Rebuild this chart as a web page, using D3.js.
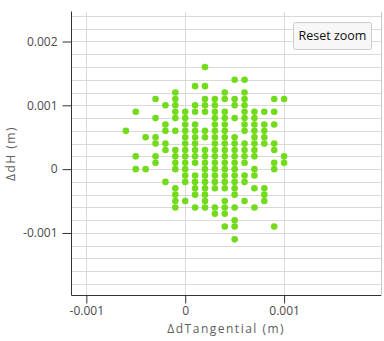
<!DOCTYPE html>
<html>
<head>
<meta charset="utf-8">
<script src="https://cdn.jsdelivr.net/npm/d3@7"></script>
<style>
  html, body { margin: 0; padding: 0; background: #fff; }
  svg { display: block; font-family: "Open Sans", "Noto Sans", sans-serif; }
</style>
</head>
<body>
<svg id="chart" width="384" height="341"></svg>
<script>
// ---- data (metres) ----
const columnX = [-0.0006, -0.0005, -0.0004, -0.0003, -0.0002, -0.0001, 0, 0.0001, 0.0002, 0.0003, 0.0004, 0.0005, 0.0006, 0.0007, 0.0008, 0.0009, 0.001];
const columnY = [
  [0.0006],
  [0.0009, 0.0002, 0],
  [0.0005, 0],
  [0.0011, 0.0008, 0.0005, 0.0004, 0.0002, 0.0001],
  [0.001, 0.0007, 0.0006, 0.0004, 0.0003, -0.0002],
  [0.0012, 0.0011, 0.001, 0.0009, 0.0008, 0.0006, 0.0003, 0.0002, 0.0001, 0, -0.0003, -0.0004, -0.0005, -0.0006],
  [0.0009, 0.0008, 0.0007, 0.0006, 0.0005, 0.0004, 0.0003, 0.0002, 0.0001, 0, -0.0001, -0.0002, -0.0005],
  [0.0013, 0.001, 0.0009, 0.0007, 0.0006, 0.0005, 0.0004, 0.0003, 0.0002, 0.0001, -0.0001, -0.0002, -0.0003, -0.0004, -0.0006],
  [0.0016, 0.0013, 0.0011, 0.001, 0.0009, 0.0006, 0.0005, 0.0003, 0.0002, 0.0001, 0, -0.0001, -0.0002, -0.0003, -0.0004, -0.0005, -0.0006],
  [0.0011, 0.001, 0.0009, 0.0008, 0.0007, 0.0006, 0.0005, 0.0004, 0.0003, 0.0002, 0.0001, 0, -0.0001, -0.0002, -0.0003, -0.0006, -0.0007],
  [0.0012, 0.0011, 0.0009, 0.0008, 0.0007, 0.0006, 0.0005, 0.0004, 0.0003, 0.0002, 0.0001, 0, -0.0001, -0.0002, -0.0003, -0.0005, -0.0006, -0.0007, -0.0009],
  [0.0014, 0.0011, 0.001, 0.0008, 0.0005, 0.0004, 0.0003, 0.0002, 0.0001, 0, -0.0001, -0.0002, -0.0003, -0.0004, -0.0006, -0.0008, -0.0009, -0.0011],
  [0.0014, 0.0012, 0.0011, 0.001, 0.0009, 0.0008, 0.0007, 0.0006, 0.0004, 0.0003, 0.0002, 0.0001, -0.0001, -0.0002, -0.0005],
  [0.0009, 0.0008, 0.0007, 0.0006, 0.0005, 0.0004, 0.0003, 0.0002, 0, -0.0001, -0.0003, -0.0006],
  [0.0009, 0.0007, 0.0006, 0.0005, 0.0004, -0.0003, -0.0004, -0.0005],
  [0.0011, 0.0009, 0.0007, 0.0004, 0.0003, 0.0001, 0, -0.0009],
  [0.0011, 0.0002, 0.0001]
];
const xDomain = [-0.00115, 0.00198];
const yDomain = [-0.00198, 0.00247];
const xTicks = [-0.001, 0, 0.001];
const xTickLabels = ["-0.001", "0", "0.001"];
const yTicks = [-0.001, 0, 0.001, 0.002];
const yTickLabels = ["-0.001", "0", "0.001", "0.002"];
const xTitle = "\u0394dTangential (m)";
const yTitle = "\u0394dH (m)";
const buttonLabel = "Reset zoom";

// ---- layout ----
const svg = d3.select("#chart");
const pL = 71.5, pR = 381, pT = 11.5, pB = 295.5;
const x = d3.scaleLinear().domain(xDomain).range([pL, pR]);
const y = d3.scaleLinear().domain(yDomain).range([pB, pT]);

const points = [];
columnX.forEach((cx, i) => columnY[i].forEach(cy => points.push({x: cx, y: cy})));

// minor horizontal gridlines every 0.0002
const hGrid = d3.range(-9, 13).map(k => +(k * 0.0002).toFixed(4));
svg.append("g").attr("transform", `translate(${pL},0)`)
  .call(d3.axisLeft(y).tickValues(hGrid).tickSize(-(pR - pL)).tickFormat(""))
  .call(g => g.select(".domain").remove())
  .call(g => g.selectAll("line").attr("stroke", "#d9d9d9").attr("shape-rendering", "crispEdges"));

// vertical gridlines at major ticks
svg.append("g").attr("transform", `translate(0,${pB})`)
  .call(d3.axisBottom(x).tickValues(xTicks).tickSize(-(pB - pT)).tickFormat(""))
  .call(g => g.select(".domain").remove())
  .call(g => g.selectAll("line").attr("stroke", "#d9d9d9").attr("shape-rendering", "crispEdges"));

// right border
svg.append("line").attr("x1", pR).attr("x2", pR).attr("y1", pT).attr("y2", pB)
  .attr("stroke", "#c8c8c8").attr("shape-rendering", "crispEdges");

// points
svg.append("g").selectAll("circle").data(points).join("circle")
  .attr("cx", d => x(d.x)).attr("cy", d => y(d.y)).attr("r", 3.3)
  .attr("fill", "#72db1c");

// axes
const yAxis = svg.append("g").attr("transform", `translate(${pL},0)`)
  .call(d3.axisLeft(y).tickValues(yTicks).tickSize(9).tickPadding(5)
    .tickFormat((d, i) => yTickLabels[i]));
yAxis.select(".domain").attr("d", `M0,${pT}V${pB}`).attr("stroke", "#333");
yAxis.selectAll("line").attr("stroke", "#333");
yAxis.selectAll("text").attr("fill", "#4a4a4a").style("font-size", "12px")
  .style("font-family", "'Open Sans', sans-serif");

const xAxis = svg.append("g").attr("transform", `translate(0,${pB})`)
  .call(d3.axisBottom(x).tickValues(xTicks).tickSize(8).tickPadding(3)
    .tickFormat((d, i) => xTickLabels[i]));
xAxis.select(".domain").attr("d", `M${pL},0H${pR}`).attr("stroke", "#333");
xAxis.selectAll("line").attr("stroke", "#333");
xAxis.selectAll("text").attr("fill", "#4a4a4a").style("font-size", "12px")
  .style("font-family", "'Open Sans', sans-serif");

// axis titles
svg.append("text").attr("x", (pL + pR) / 2).attr("y", 333)
  .attr("text-anchor", "middle").attr("fill", "#5e5e5e")
  .style("font-size", "12px").style("letter-spacing", "1.5px")
  .text(xTitle);
svg.append("text").attr("transform", `translate(15,${(pT + pB) / 2}) rotate(-90)`)
  .attr("text-anchor", "middle").attr("fill", "#5e5e5e")
  .style("font-size", "12px").style("letter-spacing", "1.5px")
  .text(yTitle);

// reset zoom button
const btn = svg.append("g");
btn.append("rect").attr("x", 293.5).attr("y", 22.5).attr("width", 78).attr("height", 27)
  .attr("rx", 2).attr("fill", "#f7f7f7").attr("stroke", "#cccccc");
btn.append("text").attr("x", 332.5).attr("y", 40).attr("text-anchor", "middle")
  .attr("fill", "#111").style("font-size", "12.5px").text(buttonLabel);
</script>
</body>
</html>
